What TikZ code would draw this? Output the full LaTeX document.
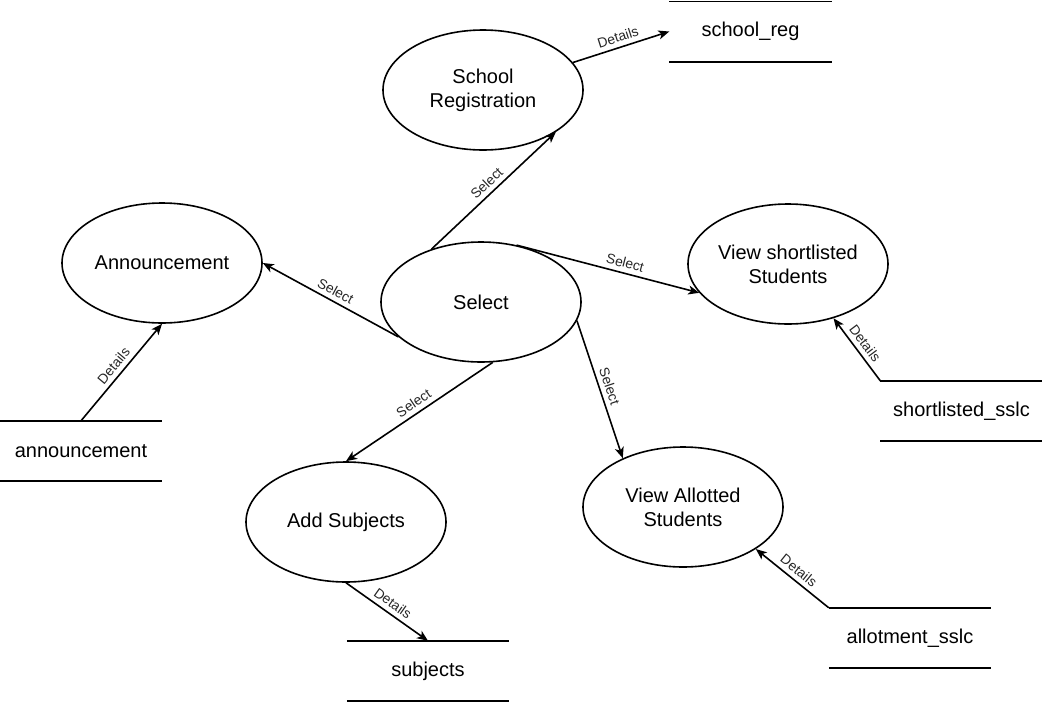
\documentclass[tikz,border=0pt]{standalone}
\usepackage{fontspec}
\setmainfont{Liberation Sans}
\usetikzlibrary{shapes.geometric,arrows.meta}
\begin{document}
\begin{tikzpicture}[x=1pt,y=-1pt,
 proc/.style={ellipse,draw,line width=1.6pt,minimum width=200pt,minimum height=120pt,inner sep=0pt,align=center,font=\fontsize{20}{24}\selectfont},
 store/.style={minimum width=162pt,minimum height=60pt,inner sep=0pt,font=\fontsize{20}{24}\selectfont},
 flow/.style={line width=1.6pt,-{Stealth[length=11pt,width=9pt,inset=3pt]}},
 lbl/.style={midway,sloped,above=2.5pt,inner sep=2pt,font=\fontsize{13.8}{15}\selectfont,text=black!85},
 storeline/.style={line width=1.6pt}]
\useasboundingbox (0,0) rectangle (1042,702);
% processes
\node[proc] (sr) at (483,90) {School\\Registration};
\node[proc] (ann) at (162,263) {Announcement};
\node[proc] (sel) at (481,302) {Select};
\node[proc] (vs) at (788,264) {View shortlisted\\Students};
\node[proc] (as) at (346,522) {Add Subjects};
\node[proc] (va) at (683,507) {View Allotted\\Students};
% data stores
\node[store] (dsr) at (750.5,31.5) {school\_reg};
\node[store] (dann) at (81,451) {announcement};
\node[store] (dsh) at (961.5,411) {shortlisted\_sslc};
\node[store] (dsub) at (428,671) {subjects};
\node[store] (dal) at (910,638) {allotment\_sslc};
\foreach \s in {dsr,dann,dsh,dsub,dal}
  {\draw[storeline] (\s.north west) -- (\s.north east) (\s.south west) -- (\s.south east);}
% flows
\draw[flow] (sr.17) -- node[lbl]{Details} (dsr.west);
\draw[flow] (sel.133) -- node[lbl]{Select} (sr.-30);
\draw[flow] (sel.-157) -- node[lbl]{Select} (ann.east);
\draw[flow] (dann.north) -- node[lbl]{Details} (ann.south);
\draw[flow] (sel.58) -- node[lbl,pos=0.58]{Select} (vs.-162);
\draw[flow] (dsh.north west) -- node[lbl]{Details} (vs.-50);
\draw[flow] (sel.-79) -- node[lbl]{Select} (as.north);
\draw[flow] (sel.-11) -- node[lbl]{Select} (va.141);
\draw[flow] (as.south) -- node[lbl]{Details} (dsub.north);
\draw[flow] (dal.north west) -- node[lbl]{Details} (va.-30);
\end{tikzpicture}
\end{document}
